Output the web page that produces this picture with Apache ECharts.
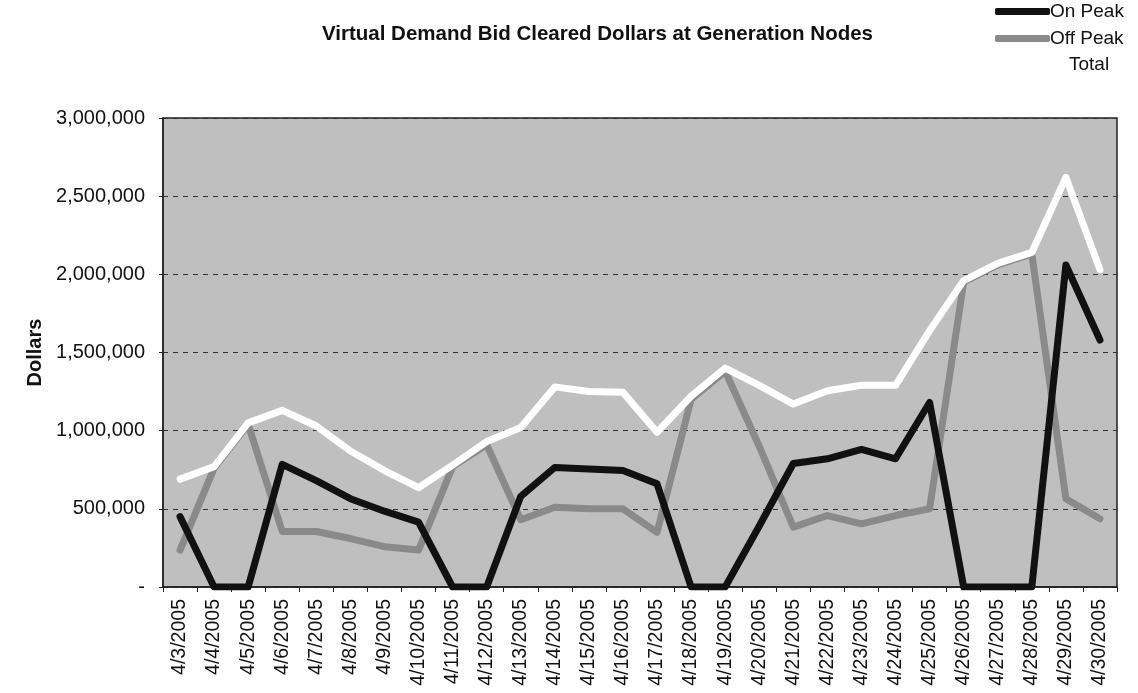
<!DOCTYPE html>
<html>
<head>
<meta charset="utf-8">
<script src="https://cdn.jsdelivr.net/npm/echarts@6/dist/echarts.min.js"></script>
<style>
  html, body { margin: 0; padding: 0; background: #fff; }
  #chart { width: 1138px; height: 693px; }
</style>
</head>
<body>
<div id="chart"></div>
<script>
  // data (dollars)
  const dates = ['4/3/2005', '4/4/2005', '4/5/2005', '4/6/2005', '4/7/2005', '4/8/2005', '4/9/2005',
    '4/10/2005', '4/11/2005', '4/12/2005', '4/13/2005', '4/14/2005', '4/15/2005', '4/16/2005',
    '4/17/2005', '4/18/2005', '4/19/2005', '4/20/2005', '4/21/2005', '4/22/2005', '4/23/2005',
    '4/24/2005', '4/25/2005', '4/26/2005', '4/27/2005', '4/28/2005', '4/29/2005', '4/30/2005'];
  const onPeak = [450000, 0, 0, 785000, 680000, 565000, 485000, 415000, 0, 0, 580000, 765000, 755000, 745000,
    660000, 0, 0, 390000, 790000, 820000, 880000, 820000, 1180000, 0, 0, 0, 2060000, 1580000];
  const offPeak = [236000, 760000, 1040000, 355000, 355000, 310000, 258000, 236000, 770000, 910000, 430000, 510000,
    500000, 500000, 350000, 1200000, 1380000, 900000, 383000, 457000, 404000, 457000, 500000, 1950000, 2060000,
    2130000, 564000, 436000];
  const total = [690000, 770000, 1050000, 1130000, 1030000, 870000, 745000, 635000, 780000, 930000, 1020000, 1280000,
    1250000, 1245000, 990000, 1220000, 1400000, 1290000, 1170000, 1255000, 1290000, 1290000, 1640000, 1960000,
    2070000, 2140000, 2620000, 2030000];

  const font = '"Liberation Sans", Arial, sans-serif';

  const chart = echarts.init(document.getElementById('chart'));

  function lineSeries(name, data, color, z) {
    return {
      name: name,
      type: 'line',
      data: data,
      symbol: 'none',
      z: z,
      color: color,
      lineStyle: { color: color, width: 7, cap: 'round', join: 'round' },
    };
  }

  chart.setOption({
    animation: false,
    textStyle: { fontFamily: font },
    title: {
      text: 'Virtual Demand Bid Cleared Dollars at Generation Nodes',
      left: 317,
      top: 19,
      textStyle: { fontSize: 20.5, fontWeight: 'bold', color: '#111', fontFamily: font },
    },
    legend: [
      {
        data: ['On Peak', 'Off Peak'],
        orient: 'vertical',
        left: 990,
        top: -3,
        itemWidth: 55,
        itemHeight: 7,
        itemGap: 8,
        icon: 'roundRect',
        textStyle: { fontSize: 19, color: '#111', fontFamily: font, padding: [0, 0, 0, -5] },
      },
      {
        data: ['Total'],
        orient: 'vertical',
        left: 1004,
        top: 50,
        itemWidth: 55,
        itemHeight: 7,
        icon: 'roundRect',
        textStyle: { fontSize: 19, color: '#111', fontFamily: font },
      },
    ],
    grid: {
      left: 163,
      right: 21,
      top: 118,
      bottom: 106,
      show: true,
      backgroundColor: '#bfbfbf',
      borderColor: '#222',
      borderWidth: 1.5,
    },
    xAxis: {
      type: 'category',
      data: dates,
      boundaryGap: true,
      axisLine: { lineStyle: { color: '#222', width: 1.5 } },
      axisTick: { show: true, interval: 0, length: 5, lineStyle: { color: '#222' } },
      axisLabel: { interval: 0, rotate: 90, fontSize: 19.5, color: '#111', margin: 12, fontFamily: font },
    },
    yAxis: {
      type: 'value',
      min: 0,
      max: 3000000,
      interval: 500000,
      name: 'Dollars',
      nameLocation: 'middle',
      nameGap: 118,
      nameTextStyle: { fontSize: 20, fontWeight: 'bold', color: '#111', fontFamily: font },
      axisLine: { show: true, lineStyle: { color: '#222', width: 1.5 } },
      axisTick: { show: true, length: 4, lineStyle: { color: '#222' } },
      axisLabel: {
        fontSize: 20,
        color: '#111',
        margin: 18,
        fontFamily: font,
        formatter: function (v) {
          return v === 0 ? '-' : v.toLocaleString('en-US');
        },
      },
      splitLine: { show: true, lineStyle: { color: '#333', width: 1, type: [5, 5] } },
    },
    series: [
      lineSeries('On Peak', onPeak, '#111111', 5),
      lineSeries('Off Peak', offPeak, '#8a8a8a', 3),
      lineSeries('Total', total, '#ffffff', 4),
    ],
  });
</script>
</body>
</html>
